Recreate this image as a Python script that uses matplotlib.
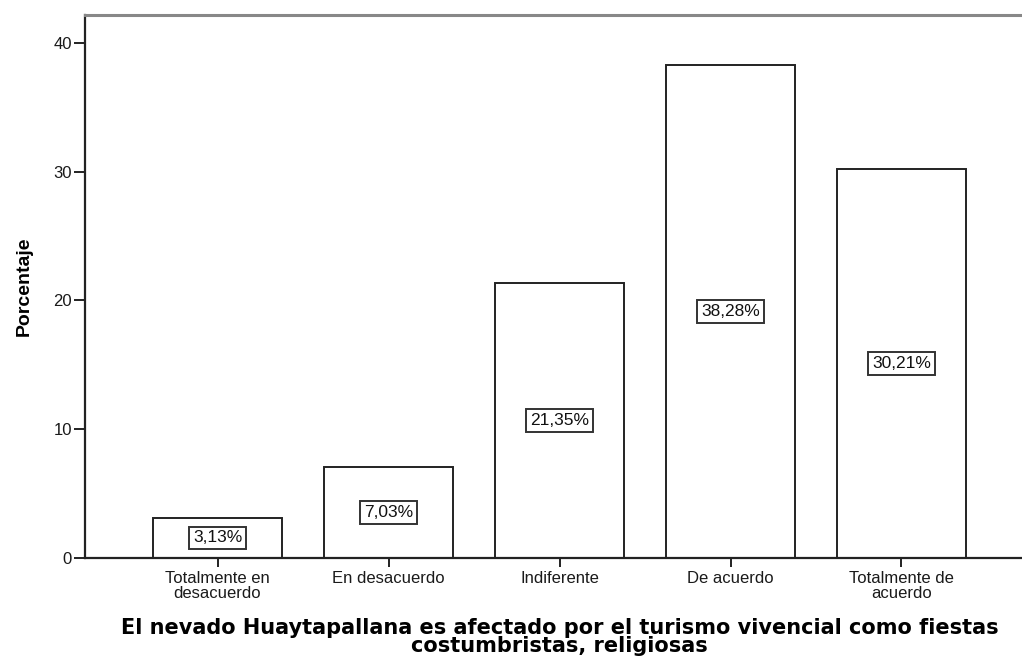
import matplotlib
matplotlib.use("Agg")
import matplotlib.pyplot as plt
import matplotlib.transforms as mtransforms

# ── Data ─────────────────────────────────────────────────────────────────────
categories = ["Totalmente en\ndesacuerdo", "En desacuerdo", "Indiferente",
              "De acuerdo", "Totalmente de\nacuerdo"]
percentages = [3.13, 7.03, 21.35, 38.28, 30.21]
value_labels = ["3,13%", "7,03%", "21,35%", "38,28%", "30,21%"]
y_ticks = [0, 10, 20, 30, 40]

W, H = 1022, 660
plt.rcParams["font.family"] = ["Liberation Sans", "DejaVu Sans"]
fig = plt.figure(figsize=(W / 100, H / 100), dpi=100)

# axes box in pixels (right edge runs off the picture, as in the SPSS export)
left_px, right_px, top_px, bottom_px = 85, 1040, 15, 558
ax = fig.add_axes([left_px / W, 1 - bottom_px / H,
                   (right_px - left_px) / W, (bottom_px - top_px) / H])

x = list(range(len(categories)))
ax.bar(x, percentages, width=0.755, color="white", edgecolor="#222222",
       linewidth=1.4, zorder=2)

for xi, v, lab in zip(x, percentages, value_labels):
    ax.text(xi, v / 2, lab, ha="center", va="center", fontsize=12.5,
            color="#111111", zorder=3,
            bbox=dict(boxstyle="square,pad=0.22", fc="white",
                      ec="#333333", lw=1.4))

ax.set_xlim(-0.775, 4.81)
ax.set_ylim(0, 42.17)
ax.set_xticks(x)
ax.set_xticklabels(categories, fontsize=12, linespacing=0.95)
ax.set_yticks(y_ticks)
ax.tick_params(axis="y", direction="out", length=8, width=1.4,
               labelsize=12, pad=1.5, color="#222222", labelcolor="#1a1a1a")
ax.tick_params(axis="x", direction="out", length=6.5, width=1.4,
               labelsize=12, pad=3, color="#222222", labelcolor="#1a1a1a")

for side in ("left", "bottom"):
    ax.spines[side].set_color("#222222")
    ax.spines[side].set_linewidth(1.6)
ax.spines["top"].set_color("#888888")
ax.spines["top"].set_linewidth(2.2)
ax.spines["right"].set_visible(False)

ax.set_ylabel("Porcentaje", fontsize=14, fontweight="bold")
ax.yaxis.set_label_coords((33 - left_px) / (right_px - left_px), 0.5)

# x-axis title centred under the bars
trans = mtransforms.blended_transform_factory(ax.transData, fig.transFigure)
fig.text(2, 1 - 637 / H,
         "El nevado Huaytapallana es afectado por el turismo vivencial como fiestas\n"
         "costumbristas, religiosas",
         transform=trans, ha="center", va="center", fontsize=15,
         fontweight="bold", family="DejaVu Sans", linespacing=0.87)

fig.savefig("out.png", dpi=100, facecolor="white")
